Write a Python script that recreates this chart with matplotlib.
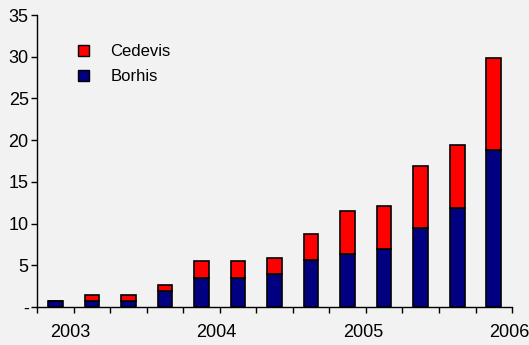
import matplotlib
matplotlib.use("Agg")
import matplotlib.pyplot as plt
import matplotlib.transforms as mtransforms
import numpy as np
from matplotlib.patches import Patch

plt.rcParams['font.family'] = ['Liberation Sans', 'DejaVu Sans']

# quarterly values, 2003 Q1 .. 2006 Q1
borhis = [0.7, 0.7, 0.7, 1.9, 3.5, 3.5, 4.0, 5.6, 6.3, 6.9, 9.5, 11.9, 18.8]
cedevis = [0.0, 0.8, 0.8, 0.8, 2.0, 2.0, 1.9, 3.1, 5.2, 5.2, 7.4, 7.5, 11.1]
years = ['2003', '2004', '2005', '2006']

bg = '#f2f2f2'
fig = plt.figure(figsize=(5.29, 3.45), dpi=100, facecolor=bg)
ax = fig.add_axes([0.07, 0.11, 0.898, 0.8465], facecolor=bg)

x = np.arange(len(borhis))
w = 0.4
ax.bar(x, borhis, width=w, color='#000080', edgecolor='black', linewidth=1.2, zorder=3)
ax.bar(x, cedevis, width=w, bottom=borhis, color='#ff0000', edgecolor='black', linewidth=1.2, zorder=3)

ax.set_xlim(-0.5, len(borhis) - 0.5)
ax.set_ylim(0, 35)

# tick marks between quarters, year labels every four ticks
edges = np.arange(len(borhis) + 1) - 0.5
ax.set_xticks(edges)
labels = [''] * len(edges)
for i, yr in enumerate(years):
    labels[1 + 4 * i] = yr
ax.set_xticklabels(labels, fontsize=13)
ax.tick_params(axis='x', length=4, width=1, pad=8, direction='out')
shift = mtransforms.ScaledTranslation(-3 / 100, 0, fig.dpi_scale_trans)
for lbl in ax.get_xticklabels():
    lbl.set_transform(lbl.get_transform() + shift)

ax.set_yticks(range(0, 36, 5))
ax.set_yticklabels(['-'] + [str(v) for v in range(5, 36, 5)], fontsize=13)
ax.tick_params(axis='y', length=4, width=1, pad=2, direction='out')

for s in ['top', 'right']:
    ax.spines[s].set_visible(False)
for s in ['left', 'bottom']:
    ax.spines[s].set_color('black')
    ax.spines[s].set_linewidth(1)

handles = [Patch(facecolor='#ff0000', edgecolor='black', label='Cedevis'),
           Patch(facecolor='#000080', edgecolor='black', label='Borhis')]
ax.legend(handles=handles, loc='upper left', bbox_to_anchor=(63 / 529, 1 - 29 / 345),
          bbox_transform=fig.transFigure, frameon=False, fontsize=12,
          handlelength=0.65, handleheight=0.65, handletextpad=1.3, labelspacing=0.62)

fig.savefig('out.png', dpi=100, facecolor=bg)
